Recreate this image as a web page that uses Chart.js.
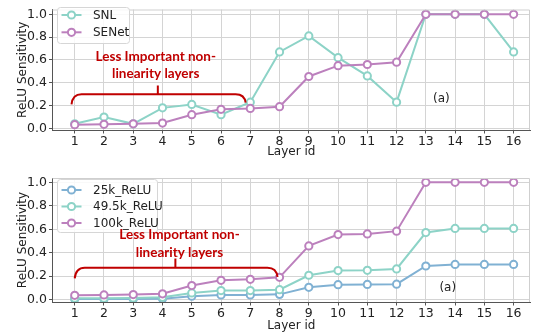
<!DOCTYPE html>
<html>
<head>
<meta charset="utf-8">
<script src="https://cdn.jsdelivr.net/npm/chart.js@4/dist/chart.umd.min.js"></script>
<style>
html,body{margin:0;padding:0;background:#fff;}
#wrap{position:relative;width:536px;height:333px;}
canvas{position:absolute;left:0;}
#c1{top:0;}
#c2{top:166px;}
</style>
</head>
<body>
<div id="wrap">
<canvas id="c1" width="536" height="166"></canvas>
<canvas id="c2" width="536" height="167"></canvas>
</div>
<script>
// ---- data ----
const layers = [1,2,3,4,5,6,7,8,9,10,11,12,13,14,15,16];
const yTicks = [0.0,0.2,0.4,0.6,0.8,1.0];
const snl   = [0.04,0.10,0.04,0.18,0.21,0.12,0.23,0.67,0.81,0.62,0.46,0.23,1.0,1.0,1.0,0.67];
const senet = [0.033,0.036,0.04,0.047,0.12,0.167,0.175,0.19,0.455,0.55,0.56,0.58,1.0,1.0,1.0,1.0];
const relu25k  = [0.005,0.005,0.006,0.008,0.03,0.04,0.04,0.045,0.105,0.128,0.13,0.132,0.287,0.30,0.30,0.30];
const relu49k  = [0.012,0.013,0.015,0.02,0.057,0.077,0.077,0.085,0.208,0.248,0.25,0.262,0.572,0.607,0.607,0.607];
const relu100k = [0.037,0.04,0.043,0.05,0.12,0.165,0.173,0.19,0.458,0.555,0.56,0.584,1.0,1.0,1.0,1.0];
const annText = ["Less Important non-","linearity layers"];
const panelTag = "(a)";

Chart.defaults.font.family = "'DejaVu Sans'";
Chart.defaults.color = "#222";

const TEAL = "#8dd3c7", PURPLE = "#bc80bd", BLUE = "#80b1d3", RED = "#c00000";

function ds(label, data, color, order){
  return {label, data: layers.map((x,i)=>({x, y:data[i]})), borderColor: color, backgroundColor:"#fff",
    pointBackgroundColor:"#fff", pointBorderColor: color, pointRadius:3.6, pointBorderWidth:2,
    borderWidth:2, tension:0, order};
}

const framePlugin = {
  id:'frame',
  afterDraw(chart, args, opts){
    const ctx = chart.ctx, a = chart.chartArea, xs = chart.scales.x, ys = chart.scales.y;
    ctx.save();
    // top/right spines
    ctx.strokeStyle = "#cfcfcf"; ctx.lineWidth = 1;
    ctx.beginPath(); ctx.moveTo(a.left, a.top+0.5); ctx.lineTo(a.right-0.5, a.top+0.5); ctx.lineTo(a.right-0.5, a.bottom); ctx.stroke();
    // legend
    const L = opts.legend;
    ctx.fillStyle = "rgba(255,255,255,0.85)"; ctx.strokeStyle = "#d6d6d6";
    ctx.beginPath(); ctx.roundRect(L.x+0.5, L.y+0.5, L.w, L.h, 3); ctx.fill(); ctx.stroke();
    chart.data.datasets.forEach((d,i)=>{
      const yy = L.y + L.row0 + i*L.dy;
      ctx.strokeStyle = d.borderColor; ctx.lineWidth = 2;
      ctx.beginPath(); ctx.moveTo(L.x+4.5, yy); ctx.lineTo(L.x+24.5, yy); ctx.stroke();
      ctx.fillStyle = "#fff"; ctx.beginPath(); ctx.arc(L.x+14.5, yy, 3.6, 0, Math.PI*2); ctx.fill(); ctx.stroke();
      ctx.fillStyle = "#222"; ctx.font = "12px 'DejaVu Sans'"; ctx.textBaseline = "middle"; ctx.textAlign = "left";
      ctx.fillText(d.label, L.x+36, yy+0.5);
    });
    // annotation
    const A = opts.ann;
    ctx.fillStyle = RED; ctx.font = "bold 13.5px Lato"; ctx.textAlign = "center"; ctx.textBaseline = "middle";
    annText.forEach((t,i)=> ctx.fillText(t, xs.getPixelForValue(A.tx), ys.getPixelForValue(A.ty[i])));
    const x0 = xs.getPixelForValue(A.x0), x1 = xs.getPixelForValue(A.x1);
    const yb0 = ys.getPixelForValue(A.yb0), yb1 = ys.getPixelForValue(A.yb1), yt = ys.getPixelForValue(A.yt);
    const xc = xs.getPixelForValue(A.xc), ytk = ys.getPixelForValue(A.ytk);
    ctx.strokeStyle = RED; ctx.lineWidth = 2;
    ctx.beginPath();
    ctx.moveTo(x0, yb0); ctx.quadraticCurveTo(x0+1, yt, x0+10, yt);
    ctx.lineTo(x1-10, yt); ctx.quadraticCurveTo(x1-1, yt, x1, yb1);
    ctx.moveTo(xc, yt); ctx.lineTo(xc, ytk);
    ctx.stroke();
    // panel tag
    ctx.fillStyle = "#222"; ctx.font = "12px 'DejaVu Sans'";
    ctx.fillText(panelTag, xs.getPixelForValue(opts.tag.x), ys.getPixelForValue(opts.tag.y));
    ctx.restore();
  }
};

function makeChart(id, datasets, o){
  return new Chart(document.getElementById(id), {
    type:'line',
    data:{datasets},
    plugins:[framePlugin],
    options:{
      responsive:false, animation:false,
      layout:{padding:{top:o.padTop, right:1, left:0, bottom:0}},
      plugins:{legend:{display:false}, tooltip:{enabled:false}, frame:{legend:o.legend, ann:o.ann, tag:o.tag}},
      scales:{
        x:{type:'linear', min:0.24, max:16.56,
          afterBuildTicks(s){ s.ticks = layers.map(v=>({value:v})); },
          afterFit(s){ s.height = o.xH; },
          ticks:{font:{size:12.5}, color:"#222", padding:1, maxRotation:0, autoSkip:false, callback:v=>String(v)},
          grid:{color:"#d4d4d4", lineWidth:1, tickLength:3.5, tickColor:"#555"},
          border:{color:"#555", width:1},
          title:{display:true, text:"Layer id", font:{size:12}, color:"#222", padding:{top:0,bottom:o.xTitlePad}}
        },
        y:{type:'linear', min:o.ymin, max:o.ymax,
          afterBuildTicks(s){ s.ticks = yTicks.map(v=>({value:v})); },
          afterFit(s){ s.width = 52.5; },
          ticks:{font:{size:12.5}, color:"#222", padding:2, callback:v=>v.toFixed(1)},
          grid:{color:"#d4d4d4", lineWidth:1, tickLength:3.5, tickColor:"#555"},
          border:{color:"#555", width:1},
          title:{display:true, text:"ReLU Sensitivity", font:{size:12}, color:"#222", padding:{top:16,bottom:0}}
        }
      }
    }
  });
}

makeChart('c1', [ds("SNL", snl, TEAL, 2), ds("SENet", senet, PURPLE, 1)], {
  padTop:3, xH:36, ymin:-0.014, ymax:1.042, xTitlePad:7,
  legend:{x:57, y:7, w:72, h:36, row0:8, dy:17.3},
  ann:{tx:3.77, ty:[0.6275,0.4775], x0:0.89, x1:6.84, yb0:0.21, yb1:0.225, yt:0.30, xc:3.84, ytk:0.375},
  tag:{x:13.53, y:0.263}
});
makeChart('c2', [ds("25k_ReLU", relu25k, BLUE, 3), ds("49.5k_ReLU", relu49k, TEAL, 2), ds("100k_ReLU", relu100k, PURPLE, 1)], {
  padTop:12, xH:31, ymin:-0.02, ymax:1.037, xTitlePad:0,
  legend:{x:57, y:13, w:100, h:53, row0:11, dy:16.5},
  ann:{tx:4.58, ty:[0.55,0.404], x0:1.0, x1:7.93, yb0:0.182, yb1:0.193, yt:0.273, xc:4.44, ytk:0.35},
  tag:{x:13.75, y:0.103}
});
</script>
</body>
</html>
